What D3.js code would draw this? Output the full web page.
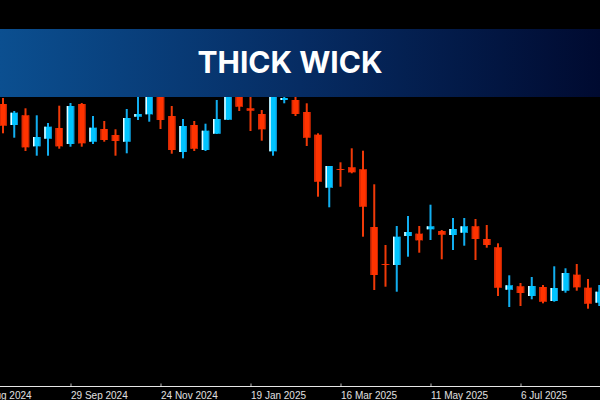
<!DOCTYPE html>
<html>
<head>
<meta charset="utf-8">
<script src="https://cdn.jsdelivr.net/npm/d3@7"></script>
<style>
  body { margin: 0; background: #000; }
  svg { display: block; }
</style>
</head>
<body>
<script>
// weekly candles
var weeks = ["2024-08-18","2024-08-25","2024-09-01","2024-09-08","2024-09-15","2024-09-22","2024-09-29",
  "2024-10-06","2024-10-13","2024-10-20","2024-10-27","2024-11-03","2024-11-10","2024-11-17","2024-11-24",
  "2024-12-01","2024-12-08","2024-12-15","2024-12-22","2024-12-29","2025-01-05","2025-01-12","2025-01-19",
  "2025-01-26","2025-02-02","2025-02-09","2025-02-16","2025-02-23","2025-03-02","2025-03-09","2025-03-16",
  "2025-03-23","2025-03-30","2025-04-06","2025-04-13","2025-04-20","2025-04-27","2025-05-04","2025-05-11",
  "2025-05-18","2025-05-25","2025-06-01","2025-06-08","2025-06-15","2025-06-22","2025-06-29","2025-07-06",
  "2025-07-13","2025-07-20","2025-07-27","2025-08-03","2025-08-10","2025-08-17","2025-08-24"];
var opens  = [148.0,137.5,142.35,126.85,130.65,136.0,128.0,148.0,129.15,135.5,132.5,129.15,141.65,142.85,154.0,
  142.0,124.0,137.5,125.0,133.15,140.15,155.0,145.85,143.0,124.35,150.0,150.0,144.0,132.65,106.15,115.5,
  116.35,115.35,86.5,68.0,67.5,82.0,83.15,85.35,84.5,82.5,83.65,86.85,80.5,76.35,55.15,56.85,52.0,56.5,
  49.5,54.65,62.65,56.15,48.65];
var highs  = [151.0,144.5,145.85,142.35,138.5,147.15,148.5,148.5,142.0,139.5,135.35,145.5,154.0,157.5,157.0,
  147.0,140.5,139.5,138.15,150.0,158.0,157.5,156.0,145.0,159.0,154.0,153.0,148.35,133.35,117.0,118.85,
  125.85,124.65,107.85,77.5,87.0,92.0,87.0,97.65,85.0,91.0,91.0,90.5,87.5,78.35,62.35,58.5,61.5,57.5,
  66.85,65.85,68.0,60.5,57.5];
var lows   = [133.35,131.15,124.5,122.15,122.15,125.65,126.65,126.65,128.0,129.15,122.15,123.35,140.0,139.15,135.5,
  123.15,120.85,124.5,124.5,133.0,140.0,144.5,134.5,129.65,122.15,148.35,142.0,127.0,101.65,96.35,106.65,
  113.35,81.65,55.0,56.65,54.15,71.65,73.65,80.0,70.35,75.0,77.15,70.0,76.15,52.0,46.5,47.0,50.35,48.35,
  49.15,53.65,54.65,45.65,47.0];
var closes = [137.15,143.65,126.35,131.5,136.65,126.85,147.0,128.35,136.15,130.0,129.5,141.0,143.0,155.0,140.0,
  125.0,137.0,125.65,134.65,140.5,156.0,146.65,144.65,135.35,155.0,151.0,143.0,131.15,109.15,117.0,115.0,
  113.85,96.65,62.5,67.5,81.65,84.0,79.85,86.85,82.65,85.5,86.85,80.5,77.5,56.15,57.35,53.5,57.0,49.15,
  56.0,63.5,56.35,48.15,54.15];
var tickDates = ["2024-08-04","2024-09-29","2024-11-24","2025-01-19","2025-03-16","2025-05-11","2025-07-06"];
var title = "THICK WICK";

var width = 600, height = 400;
var axisY = 386.5;
var parse = d3.utcParse("%Y-%m-%d");

var candles = weeks.map(function(w, i) {
  return { date: parse(w), o: opens[i], h: highs[i], l: lows[i], c: closes[i] };
});

var svg = d3.select("body").append("svg")
  .attr("width", width)
  .attr("height", height);

svg.append("rect").attr("width", width).attr("height", height).attr("fill", "#000");

// 29 Sep 2024 -> 70.5px, 8 weeks -> 90px
var x = d3.scaleUtc()
  .domain([parse("2024-09-29"), parse("2025-07-06")])
  .range([70.5, 520.5]);

var y = d3.scaleLinear()
  .domain([0, 200])
  .range([400, 0]);

var bodyW = 7.5;

var g = svg.append("g");

var candle = g.selectAll(".candle")
  .data(candles)
  .enter()
  .append("g")
  .attr("class", "candle")
  .attr("transform", d => `translate(${x(d.date)},0)`);

// wicks
candle.append("rect")
  .attr("x", -1)
  .attr("width", 2)
  .attr("y", d => y(d.h))
  .attr("height", d => y(d.l) - y(d.h))
  .attr("fill", d => d.c >= d.o ? "#12aef0" : "#f03a08");

// bodies
candle.append("rect")
  .attr("x", -bodyW / 2)
  .attr("width", bodyW)
  .attr("y", d => y(Math.max(d.o, d.c)))
  .attr("height", d => Math.max(1, Math.abs(y(d.o) - y(d.c))))
  .attr("fill", d => d.c >= d.o ? "#00c4ff" : "#ff3300");

// edges: white on the left for up candles, darker on the right
candle.append("rect")
  .attr("x", -bodyW / 2)
  .attr("width", 1.5)
  .attr("y", d => y(Math.max(d.o, d.c)))
  .attr("height", d => Math.max(1, Math.abs(y(d.o) - y(d.c))))
  .attr("fill", d => d.c >= d.o ? "#e8fbff" : "#d82a04");

candle.append("rect")
  .attr("x", bodyW / 2 - 1)
  .attr("width", 1)
  .attr("y", d => y(Math.max(d.o, d.c)))
  .attr("height", d => Math.max(1, Math.abs(y(d.o) - y(d.c))))
  .attr("fill", d => d.c >= d.o ? "#1090d0" : "#c82400");

// x axis
var xAxis = d3.axisBottom(x)
  .tickValues(tickDates.map(parse))
  .tickFormat(d3.utcFormat("%-d %b %Y"))
  .tickSizeInner(-3)
  .tickSizeOuter(0)
  .tickPadding(8);

var axisG = svg.append("g")
  .attr("transform", `translate(0,${axisY})`)
  .call(xAxis);

axisG.select(".domain").remove();
axisG.append("line")
  .attr("x1", 0).attr("x2", width)
  .attr("stroke", "#e6e6e6");
axisG.selectAll(".tick line").attr("stroke", "#bbbbbb");
axisG.selectAll(".tick text")
  .attr("text-anchor", "start")
  .attr("x", 0)
  .attr("y", 5)
  .attr("fill", "#e0e0e0")
  .style("font-family", "'Liberation Sans', Arial, sans-serif")
  .style("font-size", "10px");

// title banner on top of the candles
var grad = svg.append("defs").append("linearGradient")
  .attr("id", "banner")
  .attr("x1", "0%").attr("x2", "100%");
grad.append("stop").attr("offset", "0%").attr("stop-color", "#0b4f90");
grad.append("stop").attr("offset", "50%").attr("stop-color", "#062c63");
grad.append("stop").attr("offset", "100%").attr("stop-color", "#000a30");

svg.append("rect")
  .attr("x", 0).attr("y", 29)
  .attr("width", width).attr("height", 68)
  .attr("fill", "url(#banner)");

svg.append("text")
  .attr("x", 290)
  .attr("y", 73)
  .attr("text-anchor", "middle")
  .attr("fill", "#ffffff")
  .style("font-family", "Inter, 'Open Sans', sans-serif")
  .style("font-weight", "700")
  .style("font-size", "30px")
  .text(title);
</script>
</body>
</html>
